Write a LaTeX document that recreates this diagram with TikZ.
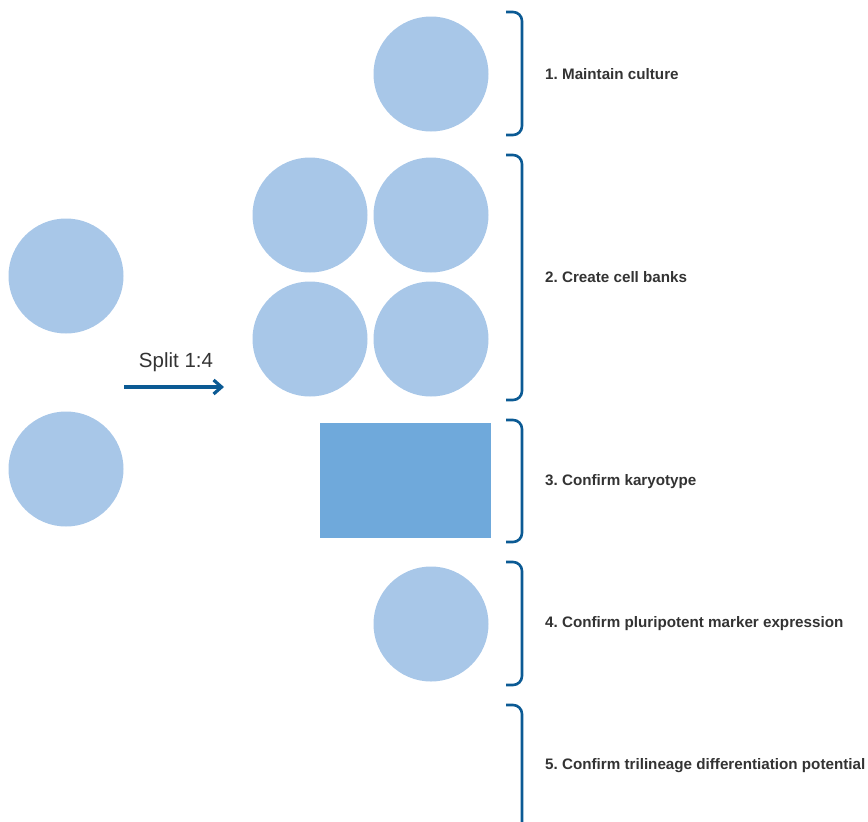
\documentclass[tikz,border=0pt]{standalone}
\usepackage{fontspec}
\setmainfont{Liberation Sans}
\usetikzlibrary{arrows.meta}
\definecolor{cellc}{HTML}{A8C7E8}
\definecolor{rectc}{HTML}{6FA9DB}
\definecolor{brc}{HTML}{0B5A94}
\definecolor{txt}{HTML}{333333}
\frenchspacing
\tikzset{
  cell/.style={circle,fill=cellc,minimum size=115pt,inner sep=0pt},
  brk/.style={draw=brc,line width=2.6pt,rounded corners=9pt},
  lbl/.style={anchor=west,font=\fontsize{15.2}{17}\selectfont\bfseries\frenchspacing,text=txt,inner sep=0pt}
}
\begin{document}
\begin{tikzpicture}[x=1pt,y=-1pt]
\useasboundingbox (0,0) rectangle (868,822);
% cells
\node[cell] (c1) at (431,74) {};
\node[cell] (g1) at (310,215) {};
\node[cell] (g2) at (431,215) {};
\node[cell] (g3) at (310,339) {};
\node[cell] (g4) at (431,339) {};
\node[cell] (l1) at (66,276) {};
\node[cell] (l2) at (66,469) {};
\node[cell] (c4) at (431,624) {};
\node[fill=rectc,minimum width=171pt,minimum height=115pt,inner sep=0pt] (kr) at (405.5,480.5) {};
% arrow
\coordinate (a0) at (124,387);
\coordinate (a1) at (224,387);
\draw[draw=brc,line width=3.6pt,-{Straight Barb[length=8pt,width=14pt,line width=3.2pt]}] (a0) -- (a1);
\node[font=\fontsize{20.5}{24}\selectfont,text=txt] (sp) at (176,362.5) {Split 1:4};
% brackets
\draw[brk] (506,12) -- (522,12) -- (522,135) -- (506,135);
\draw[brk] (506,155) -- (522,155) -- (522,400) -- (506,400);
\draw[brk] (506,420) -- (522,420) -- (522,542) -- (506,542);
\draw[brk] (506,562) -- (522,562) -- (522,685) -- (506,685);
\draw[brk] (506,705) -- (522,705) -- (522,830);
% labels
\node[lbl] (t1) at (545,74.5) {1. Maintain culture};
\node[lbl] (t2) at (545,277.5) {2. Create cell banks};
\node[lbl] (t3) at (545,481.5) {3. Confirm karyotype};
\node[lbl] (t4) at (545,623.5) {4. Confirm pluripotent marker expression};
\node[lbl] (t5) at (545,765.5) {5. Confirm trilineage differentiation potential};
\end{tikzpicture}
\end{document}
